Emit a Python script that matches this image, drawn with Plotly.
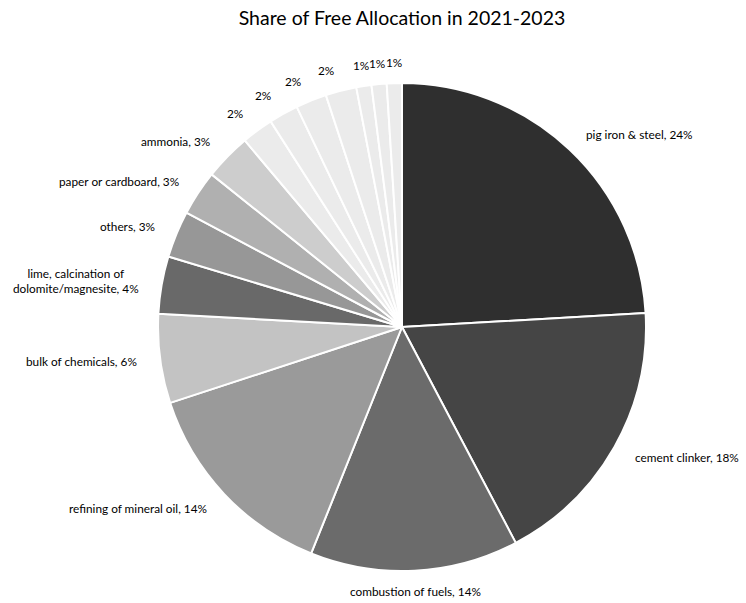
import math
import plotly.graph_objects as go

# Share of free allocation by activity, 2021-2023 (percent)
sectors = [
    "pig iron & steel", "cement clinker", "combustion of fuels",
    "refining of mineral oil", "bulk of chemicals",
    "lime, calcination of<br>dolomite/magnesite", "others",
    "paper or cardboard", "ammonia",
    "hydrogen and synthesis gas", "aluminium", "glass", "ceramics",
    "nitric acid", "adipic acid", "carbon black",
]
shares = [24.1, 18.2, 13.8, 13.9, 5.9, 3.8, 3.1, 3.0, 3.1,
          2.1, 1.95, 2.05, 2.05, 1.0, 1.0, 1.0]
# Only the larger activities carry their name in the label
named = [True] * 9 + [False] * 7

colors = ["#2f2f2f", "#454545", "#6b6b6b", "#9a9a9a", "#c3c3c3",
          "#696969", "#979797", "#b0b0b0", "#cdcdcd",
          "#ebebeb", "#ebebeb", "#ebebeb", "#ebebeb",
          "#ebebeb", "#ebebeb", "#ebebeb"]

W, H = 746, 603
CX, CY, R = 402, 327, 244
TOP, BOTTOM = CY - R, H - (CY + R)
FONT = "Lato"

fig = go.Figure(go.Pie(
    labels=sectors,
    values=shares,
    sort=False,
    direction="clockwise",
    rotation=0,
    textinfo="none",
    hoverinfo="label+percent",
    marker=dict(colors=colors, line=dict(color="white", width=2)),
    domain=dict(x=[(CX - R) / W, (CX + R) / W], y=[0, 1]),
    showlegend=False,
))

# Data labels placed just outside the rim, at each slice's mid-angle
total = sum(shares)
plot_h = H - TOP - BOTTOM
cum = 0.0
annotations = []
for name, v, show_name in zip(sectors, shares, named):
    pct = round(100 * v / total)
    mid = 2 * math.pi * (cum + v / 2) / total
    cum += v
    s, c = math.sin(mid), math.cos(mid)
    r_lab = R + 21
    px = CX + r_lab * s
    py = CY - r_lab * c
    if s > 0.2:
        xa = "left"
    elif s < -0.2:
        xa = "right"
    else:
        xa = "center"
    text = f"{name}, {pct}%" if show_name else f"{pct}%"
    annotations.append(dict(
        x=px / W, y=(H - BOTTOM - py) / plot_h,
        xref="paper", yref="paper",
        text=text, showarrow=False,
        xanchor=xa, yanchor="middle", align="center",
        font=dict(family=FONT, size=11.8, color="#000000"),
    ))

fig.update_layout(
    width=W, height=H,
    margin=dict(l=0, r=0, t=TOP, b=BOTTOM),
    paper_bgcolor="white",
    plot_bgcolor="white",
    title=dict(
        text="Share of Free Allocation in 2021-2023",
        x=CX / W, xanchor="center",
        y=1 - 18 / H, yanchor="middle",
        font=dict(family=FONT, size=19.5, color="#000000"),
    ),
    annotations=annotations,
)

fig.write_html("out.html")
